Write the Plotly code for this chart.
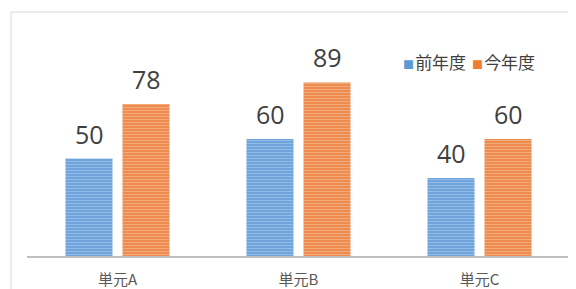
import plotly.graph_objects as go

categories = ["単元A", "単元B", "単元C"]
series_names = ["前年度", "今年度"]
prev_year = [50, 60, 40]
this_year = [78, 89, 60]
series_colors = ["#5B9BD5", "#ED7D31"]

# page body has an 8px margin -> figure coordinates = screen - 8
OFF = 8
W, H = 576 - OFF, 289 - OFF
L, R, T, B = 27 - OFF, 6, 61 - OFF, 33
plot_w = W - L - R
plot_h = H - T - B

font_fam = "Noto Sans CJK JP, Open Sans, sans-serif"
num_font = "Open Sans, Noto Sans, sans-serif"

fig = go.Figure()
fig.add_bar(
    x=categories, y=prev_year, name=series_names[0], showlegend=False,
    marker=dict(color="#6FA5DC", line=dict(width=0),
                pattern=dict(shape="-", fgcolor="#B5D1EE", bgcolor="#6FA5DC", size=3, solidity=0.33)),
)
fig.add_bar(
    x=categories, y=this_year, name=series_names[1], showlegend=False,
    marker=dict(color="#EE8C50", line=dict(width=0),
                pattern=dict(shape="-", fgcolor="#F8C6A6", bgcolor="#EE8C50", size=3, solidity=0.33)),
)

# data labels
for vals, dx in ((prev_year, -28.5), (this_year, 28.5)):
    for c, v in zip(categories, vals):
        fig.add_annotation(x=c, y=v, xref="x", yref="y", text=str(v), showarrow=False,
                           xshift=dx, yshift=6, yanchor="bottom",
                           font=dict(size=25, color="#404040", family=num_font))

# legend drawn as text items
leg_x = [401 - OFF, 470 - OFF]
for name, col, lx in zip(series_names, series_colors, leg_x):
    fig.add_annotation(xref="paper", yref="paper", x=(lx - L) / plot_w,
                       y=1 + (T - (61 - OFF)) / plot_h, xanchor="left", yanchor="middle",
                       showarrow=False,
                       text=f"<span style='font-size:11px;color:{col}'>■</span><span style='font-size:5px'> </span>{name}",
                       font=dict(size=17, color="#404040", family=font_fam))

bx = (11 - 27) / plot_w
by = 1 + (61 - 12) / plot_h
fig.add_shape(type="line", xref="paper", yref="paper", x0=bx, x1=bx, y0=-0.5, y1=by,
              line=dict(color="#D9D9D9", width=1))
fig.add_shape(type="line", xref="paper", yref="paper", x0=bx, x1=1.5, y0=by, y1=by,
              line=dict(color="#D9D9D9", width=1))

fig.update_layout(
    width=W, height=H,
    margin=dict(l=L, r=R, t=T, b=B),
    paper_bgcolor="white", plot_bgcolor="white",
    barmode="group", bargap=0.37, bargroupgap=0.175,
    font=dict(family=font_fam, color="#595959"),
    showlegend=False,
    xaxis=dict(showline=True, linecolor="#BFBFBF", linewidth=1.5, ticks="",
               ticklabelstandoff=9, automargin=False,
               tickfont=dict(size=15, color="#595959", family=font_fam), showgrid=False),
    yaxis=dict(range=[0, 100], visible=False, showgrid=False, automargin=False),
)

fig.write_html("out.html")
